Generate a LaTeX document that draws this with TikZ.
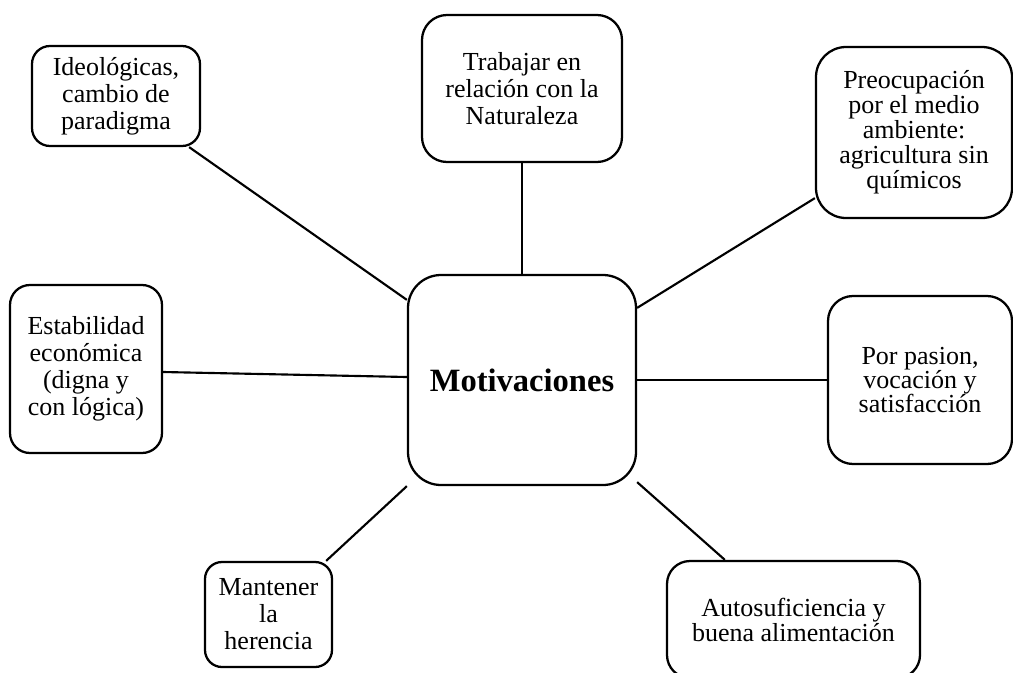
\documentclass[tikz,border=0pt]{standalone}
\usepackage{fontspec}
\setmainfont{Liberation Serif}
\usetikzlibrary{calc}
\begin{document}
\begin{tikzpicture}[x=0.75pt,y=-0.75pt,
  idea/.style={draw, line width=1.7pt, align=center, inner sep=0pt,
    font=\fontsize{19.5}{20.25}\selectfont},
  tight/.style={font=\fontsize{19.5}{18.75}\selectfont},
  hub/.style={draw, line width=1.7pt, align=center, inner sep=0pt,
    font=\fontsize{24.4}{29}\selectfont\bfseries},
  link/.style={line width=1.6pt}]
\useasboundingbox (0,0) rectangle (1013,672);

% central topic
\node[hub, rounded corners=24.75pt, minimum width=171pt, minimum height=157.5pt]
  (moti) at (522,380) {Motivaciones};

% surrounding motivations
\node[idea, rounded corners=13.5pt, minimum width=126pt, minimum height=75pt]
  (ideo) at (116,96) {Ideológicas,\\cambio de\\paradigma};
\node[idea, rounded corners=18.75pt, minimum width=150pt, minimum height=110.25pt]
  (trab) at (522,88.5) {Trabajar en\\relación con la\\Naturaleza};
\node[idea, tight, rounded corners=22.5pt, minimum width=147pt, minimum height=128.25pt]
  (preo) at (914,132.5) {Preocupación\\por el medio\\ambiente:\\agricultura sin\\químicos};
\node[idea, rounded corners=15pt, minimum width=114pt, minimum height=126pt]
  (esta) at (86,369) {Estabilidad\\económica\\(digna y\\con lógica)};
\node[idea, font=\fontsize{19.5}{18}\selectfont, rounded corners=18.75pt,
  minimum width=138pt, minimum height=126pt]
  (pasi) at (920,380) {Por pasion,\\vocación y\\satisfacción};
\node[idea, rounded corners=12.75pt, minimum width=95.25pt, minimum height=78.75pt]
  (mant) at (268.5,614.5) {Mantener\\la\\herencia};
\node[idea, tight, rounded corners=17.25pt, minimum width=189.75pt, minimum height=87.75pt]
  (auto) at (793.5,619.5) {Autosuficiencia y\\buena alimentación};

% connectors
\draw[link] ($(ideo.south east)+(-12,0)$) -- ($(moti.north west)+(0,26)$);
\draw[link] (trab.south) -- (moti.north);
\draw[link] ($(preo.south west)+(0,-21)$) -- ($(moti.north east)+(0,34)$);
\draw[link] ($(esta.east)+(0,3)$) -- ($(moti.west)+(0,-3)$);
\draw[link] (moti.east) -- (pasi.west);
\draw[link] ($(mant.north east)+(-7,0)$) -- (moti.south west);
\draw[link] ($(moti.south east)+(0,-4)$) -- ($(auto.north west)+(59,0)$);
\end{tikzpicture}
\end{document}
